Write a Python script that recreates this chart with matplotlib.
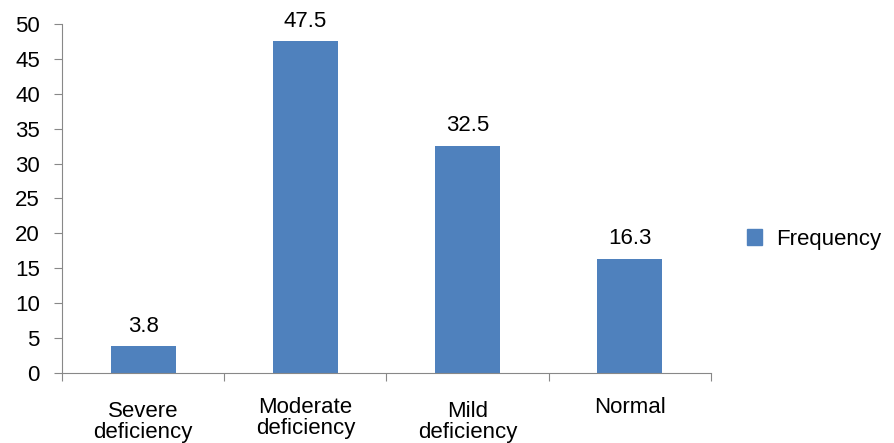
import matplotlib.pyplot as plt
from matplotlib.patches import Patch

categories = ["Severe\ndeficiency", "Moderate\ndeficiency", "Mild\ndeficiency", "Normal"]
frequency = [3.8, 47.5, 32.5, 16.3]
yticks = [0, 5, 10, 15, 20, 25, 30, 35, 40, 45, 50]

plt.rcParams['font.family'] = ['Liberation Sans', 'DejaVu Sans']
bar_color = '#4F81BD'
axis_color = '#888888'
fs = 16

fig = plt.figure(figsize=(8.95, 4.43), dpi=100)
ax = fig.add_axes([0.0693, 0.158, 0.725, 0.788])

x = list(range(len(categories)))
bars = ax.bar(x, frequency, width=0.4, color=bar_color, zorder=2)
for xi, v in zip(x, frequency):
    ax.text(xi, v + 1.4, f"{v}", ha='center', va='bottom', fontsize=fs)

ax.set_xlim(-0.5, len(categories) - 0.5)
ax.set_ylim(0, 50)
ax.set_yticks(yticks)
ax.tick_params(axis='y', labelsize=fs, length=6, color=axis_color, pad=10)

# category separators as ticks, labels placed separately
ax.set_xticks([i - 0.5 for i in range(len(categories) + 1)])
ax.set_xticklabels([])
ax.tick_params(axis='x', length=6, color=axis_color, direction='out')
label_offsets = [1, -2, 1.5, -2]
for xi, lab, off in zip(x, categories, label_offsets):
    ax.annotate(lab, (xi, 0), xycoords='data', xytext=(0, -19 - off),
                textcoords='offset points', ha='center', va='top',
                fontsize=fs, linespacing=1.0)

for s in ['top', 'right']:
    ax.spines[s].set_visible(False)
ax.spines['left'].set_color(axis_color)
ax.spines['bottom'].set_color(axis_color)

handle = Patch(color=bar_color, label='Frequency')
fig.legend(handles=[handle], loc='center left', bbox_to_anchor=(0.812, 0.46),
           frameon=False, fontsize=fs, handlelength=0.7, handleheight=0.7,
           handletextpad=0.6)

fig.savefig('out.png', dpi=100)
